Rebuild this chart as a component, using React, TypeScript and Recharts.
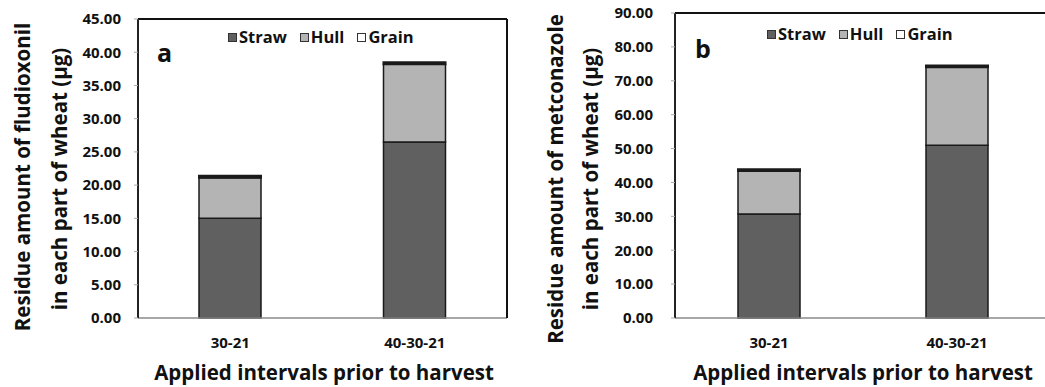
import React from "react";
import { BarChart, Bar, XAxis, YAxis } from "recharts";

const categories = ["30-21", "40-30-21"];
const strawA = [15.0, 26.5];
const hullA = [6.1, 11.7];
const grainA = [0.3, 0.3];
const strawB = [30.7, 51.0];
const hullB = [12.7, 23.0];
const grainB = [0.5, 0.5];
const ticksA = [0, 5, 10, 15, 20, 25, 30, 35, 40, 45];
const ticksB = [0, 10, 20, 30, 40, 50, 60, 70, 80, 90];

const FONT = "'Open Sans', Arial, sans-serif";
const SERIES = [
  { key: "straw", name: "Straw", fill: "#606060", sw: 1.5 },
  { key: "hull", name: "Hull", fill: "#b4b4b4", sw: 1.5 },
  { key: "grain", name: "Grain", fill: "#ffffff", sw: 2 },
];

const buildRows = (s: number[], h: number[], g: number[]) =>
  categories.map((c, i) => ({ name: c, straw: s[i], hull: h[i], grain: g[i] }));

function LegendRow({ left, top }: { left: number; top: number }) {
  return (
    <div style={{ position: "absolute", left, top, display: "flex", gap: 13, fontFamily: FONT, fontWeight: 700, fontSize: 16.5, color: "#111", lineHeight: "20px" }}>
      {SERIES.map((s) => (
        <div key={s.key} style={{ display: "flex", alignItems: "center", gap: 2 }}>
          <span style={{ width: 7, height: 7, background: s.fill, border: "1.5px solid #333" }} />
          <span>{s.name}</span>
        </div>
      ))}
    </div>
  );
}

interface PanelProps {
  rows: ReturnType<typeof buildRows>;
  ticks: number[];
  max: number;
  left: number;
  width: number;
  marginLeft: number;
  marginRight: number;
  marginTop: number;
  tickMargin: number;
}

function Panel(p: PanelProps) {
  return (
    <div style={{ position: "absolute", left: p.left, top: 0 }}>
      <BarChart
        width={p.width}
        height={387}
        data={p.rows}
        margin={{ top: p.marginTop, right: p.marginRight, left: p.marginLeft, bottom: 39 }}
        barSize={62}
      >
        <XAxis
          dataKey="name"
          height={30}
          axisLine={{ stroke: "#8a8a8a", strokeWidth: 1.5 }}
          tickLine={false}
          tickMargin={13}
          tick={{ fill: "#111", fontSize: 15, fontWeight: 700, fontFamily: FONT }}
        />
        <XAxis xAxisId="top" orientation="top" dataKey="name" height={1} tick={false} tickLine={false}
          axisLine={{ stroke: "#111", strokeWidth: 2 }} />
        <YAxis
          width={58}
          domain={[0, p.max]}
          ticks={p.ticks}
          interval={0}
          tickFormatter={(v: number) => v.toFixed(2)}
          axisLine={{ stroke: "#222", strokeWidth: 2 }}
          tickLine={{ stroke: "#aaa" }}
          tickSize={4}
          tickMargin={p.tickMargin}
          tick={{ fill: "#111", fontSize: 15, fontWeight: 700, fontFamily: FONT }}
        />
        <YAxis yAxisId="right" orientation="right" width={1} domain={[0, p.max]} tick={false} tickLine={false}
          axisLine={{ stroke: "#111", strokeWidth: 2 }} />
        {SERIES.map((s) => (
          <Bar key={s.key} dataKey={s.key} name={s.name} stackId="a" fill={s.fill}
            stroke="#1a1a1a" strokeWidth={s.sw} isAnimationActive={false} />
        ))}
      </BarChart>
    </div>
  );
}

export default function App() {
  const titleStyle = { fontFamily: FONT, fontWeight: 700, fontSize: 20.5, fill: "#111" } as const;
  return (
    <div style={{ position: "fixed", left: 0, top: 0, width: 1045, height: 387, overflow: "hidden", background: "#fff" }}>
      <Panel rows={buildRows(strawA, hullA, grainA)} ticks={ticksA} max={45} left={0} width={520}
        marginLeft={80} marginRight={12} marginTop={18} tickMargin={13} />
      <Panel rows={buildRows(strawB, hullB, grainB)} ticks={ticksB} max={90} left={520} width={532}
        marginLeft={97} marginRight={0} marginTop={12} tickMargin={18} />
      <LegendRow left={228} top={27} />
      <LegendRow left={767} top={24} />
      <svg width={1045} height={387} style={{ position: "absolute", left: 0, top: 0, pointerEvents: "none" }}>
        <text x={157} y={62} style={{ ...titleStyle, fontSize: 25 }}>a</text>
        <text x={695} y={58} style={{ ...titleStyle, fontSize: 25 }}>b</text>
        <text x={324} y={380} textAnchor="middle" style={titleStyle}>Applied intervals prior to harvest</text>
        <text x={863} y={380} textAnchor="middle" style={titleStyle}>Applied intervals prior to harvest</text>
        <text transform="translate(30,177) rotate(-90)" textAnchor="middle" style={titleStyle}>Residue amount of fludioxonil</text>
        <text transform="translate(67,179) rotate(-90)" textAnchor="middle" style={titleStyle}>in each part of wheat (μg)</text>
        <text transform="translate(563,179) rotate(-90)" textAnchor="middle" style={titleStyle}>Residue amount of metconazole</text>
        <text transform="translate(598,179) rotate(-90)" textAnchor="middle" style={titleStyle}>in each part of wheat (μg)</text>
      </svg>
    </div>
  );
}
